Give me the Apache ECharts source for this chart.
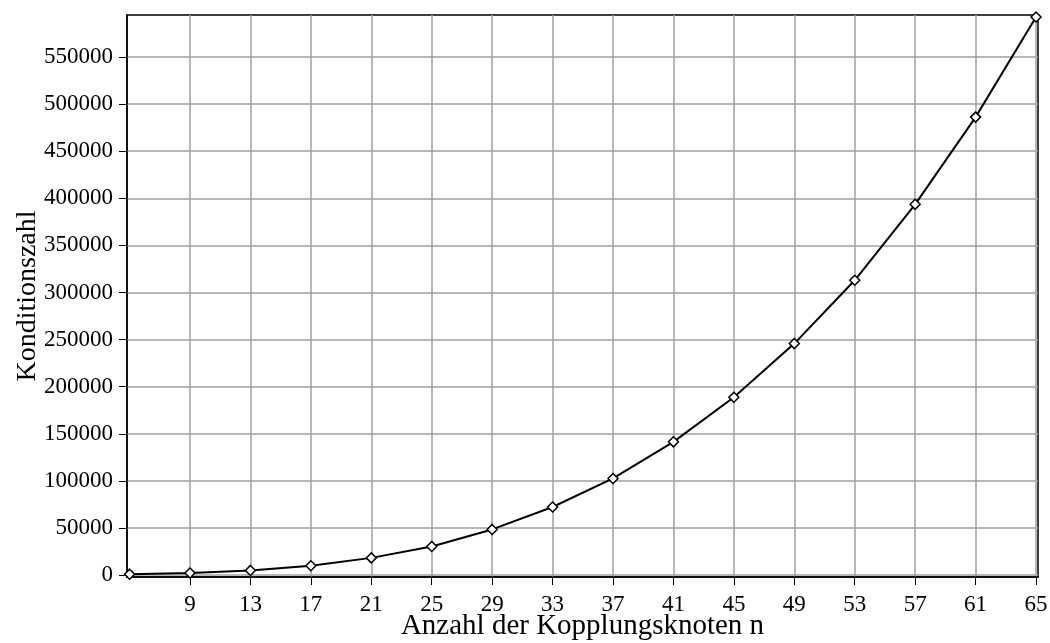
<!DOCTYPE html>
<html>
<head>
<meta charset="utf-8">
<script src="https://cdn.jsdelivr.net/npm/echarts@6/dist/echarts.min.js"></script>
<style>
  html, body { margin: 0; padding: 0; background: #fff; }
  #chart { width: 1050px; height: 643px; }
</style>
</head>
<body>
<div id="chart"></div>
<script>
// Anzahl der Kopplungsknoten n
const nodes = [5, 9, 13, 17, 21, 25, 29, 33, 37, 41, 45, 49, 53, 57, 61, 65];
// Konditionszahl
const condition = [1000, 2200, 5000, 9900, 18300, 30400, 48500, 72300, 102600, 141500,
                   188800, 245800, 313000, 393600, 486200, 592500];
const xTicks = [9, 13, 17, 21, 25, 29, 33, 37, 41, 45, 49, 53, 57, 61, 65];
const yTicks = [0, 50000, 100000, 150000, 200000, 250000, 300000, 350000, 400000, 450000, 500000, 550000];

const font = '"Liberation Serif", "Times New Roman", serif';
const chart = echarts.init(document.getElementById('chart'));

chart.setOption({
  animation: false,
  backgroundColor: '#fff',
  grid: {
    left: 127, right: 12, top: 15, bottom: 66,
    outerBoundsMode: 'none',
    containLabel: false,
    show: true, borderColor: '#000', borderWidth: 1.5, backgroundColor: 'transparent'
  },
  xAxis: {
    type: 'value',
    min: 4.83, max: 65.13,
    name: 'Anzahl der Kopplungsknoten n',
    nameLocation: 'middle',
    nameGap: 35,
    nameMoveOverlap: false,
    nameTextStyle: { fontFamily: font, fontSize: 29, color: '#000' },
    axisLine: { onZero: false, lineStyle: { color: '#000', width: 1.5 } },
    axisTick: { show: true, inside: false, length: 8, lineStyle: { color: '#000', width: 1 }, customValues: xTicks },
    axisLabel: {
      customValues: xTicks, fontFamily: font, fontSize: 23, color: '#000', margin: 16,
      formatter: v => String(v)
    },
    splitLine: { show: true, lineStyle: { color: '#a0a0a0', width: 1.5 } }
  },
  yAxis: {
    type: 'value',
    min: -2000, max: 594600,
    name: 'Konditionszahl',
    nameLocation: 'middle',
    nameRotate: 90,
    nameGap: 85,
    nameMoveOverlap: false,
    nameTextStyle: { fontFamily: font, fontSize: 28, color: '#000' },
    axisLine: { onZero: false, lineStyle: { color: '#000', width: 1.5 } },
    axisTick: { show: true, inside: false, length: 8, lineStyle: { color: '#000', width: 1 }, customValues: yTicks },
    axisLabel: {
      customValues: yTicks, fontFamily: font, fontSize: 23, color: '#000', margin: 14,
      formatter: v => String(v)
    },
    splitLine: { show: true, lineStyle: { color: '#a0a0a0', width: 1.5 } }
  },
  series: [{
    type: 'line',
    data: nodes.map((n, i) => [n, condition[i]]),
    smooth: false,
    lineStyle: { color: '#000', width: 2 },
    symbol: 'diamond',
    symbolSize: 10,
    itemStyle: { color: '#fff', borderColor: '#000', borderWidth: 1.5 },
    clip: false
  }]
});
</script>
</body>
</html>
